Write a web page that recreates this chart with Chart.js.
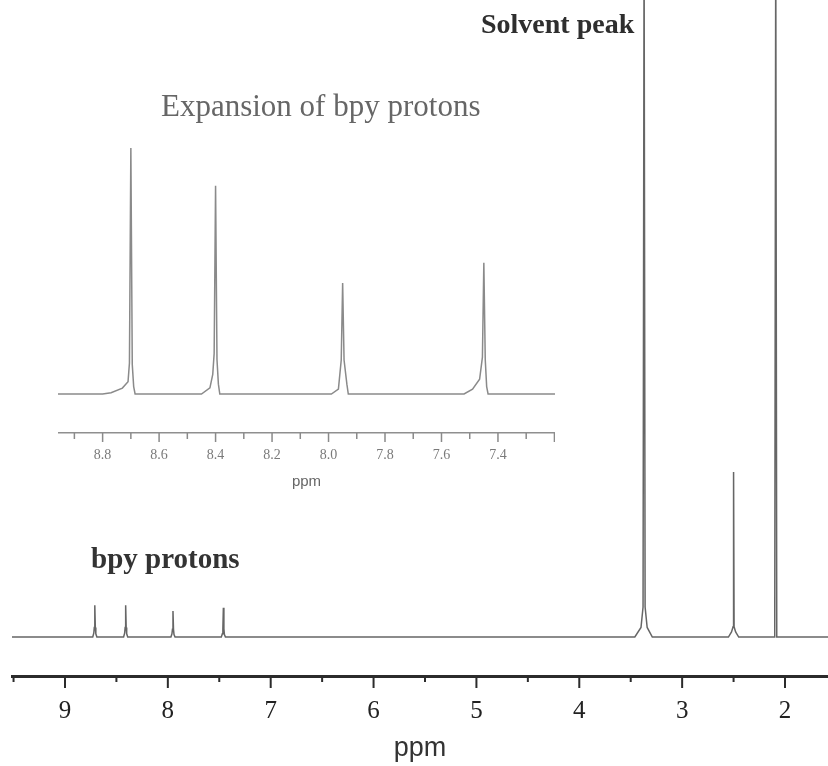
<!DOCTYPE html>
<html>
<head>
<meta charset="utf-8">
<script src="https://cdn.jsdelivr.net/npm/chart.js@4.4.1/dist/chart.umd.min.js"></script>
<style>
  body { margin: 0; background: #fff; }
  #wrap { position: relative; width: 828px; height: 766px; background: #fff; overflow: hidden; }
  #main { position: absolute; left: 0; top: 0; }
  #inset { position: absolute; left: 58px; top: 130px; }
  .note { position: absolute; line-height: 1; white-space: nowrap; font-family: 'Liberation Serif', 'Times New Roman', serif; }
</style>
</head>
<body>
<div id="wrap">
  <canvas id="main" width="828" height="766"></canvas>
  <canvas id="inset" width="497" height="361"></canvas>
  <div class="note" style="left:481px; top:10px; font-size:28px; font-weight:bold; color:#2e2e2e;">Solvent peak</div>
  <div class="note" style="left:91px; top:544px; font-size:29px; font-weight:bold; color:#333;">bpy protons</div>
  <div class="note" style="left:161px; top:90px; font-size:31px; color:#666;">Expansion of bpy protons</div>
</div>
<script>
// full spectrum (ppm, relative intensity; 100 = top of plot)
const mainPpm = [9.52, 8.73, 8.72, 8.715, 8.71, 8.705, 8.70, 8.69,
  8.43, 8.42, 8.415, 8.41, 8.405, 8.40, 8.39,
  7.97, 7.96, 7.955, 7.95, 7.945, 7.94, 7.93,
  7.48, 7.47, 7.465, 7.46, 7.455, 7.45, 7.44,
  3.46, 3.40, 3.38, 3.37, 3.36, 3.34, 3.29,
  2.55, 2.52, 2.505, 2.50, 2.495, 2.48, 2.45,
  2.10, 2.09, 2.08, 1.58];
const mainIntensity = [0, 0, 0.6, 1.5, 5.0, 1.5, 0.5, 0,
  0, 0.6, 1.5, 5.0, 1.5, 0.5, 0,
  0, 0.5, 1.2, 4.1, 1.2, 0.4, 0,
  0, 0.5, 1.3, 4.6, 1.3, 0.4, 0,
  0, 1.5, 4.7, 110, 4.7, 1.5, 0,
  0, 0.8, 1.6, 25.9, 1.6, 0.8, 0,
  0, 110, 0, 0];

// expansion of the bpy region (100 = tallest peak)
const insetPpm = [8.958, 8.80, 8.77, 8.73, 8.71, 8.705, 8.70, 8.695, 8.69, 8.685,
  8.45, 8.42, 8.41, 8.405, 8.40, 8.395, 8.39, 8.385,
  7.99, 7.965, 7.955, 7.95, 7.945, 7.935, 7.93,
  7.52, 7.49, 7.465, 7.455, 7.45, 7.445, 7.44, 7.435, 7.198];
const insetIntensity = [0, 0, 0.5, 2.4, 5, 12.6, 100, 12, 3, 0,
  0, 2.5, 8, 16.5, 84.6, 14, 4, 0,
  0, 2, 13.8, 45.1, 13.8, 4, 0,
  0, 2, 6, 15, 53.3, 14, 3, 0, 0];

const mainTickLabels = [9, 8, 7, 6, 5, 4, 3, 2];
const insetTickLabels = ['8.8', '8.6', '8.4', '8.2', '8.0', '7.8', '7.6', '7.4'];

function nearMultiple(v, step) {
  const r = v / step;
  return Math.abs(r - Math.round(r)) < 1e-6;
}

// tick marks hanging under the axis, long for labelled ones
const tickMarks = {
  id: 'tickMarks',
  afterDraw(chart, args, opts) {
    const scale = chart.scales.x;
    const ctx = chart.ctx;
    ctx.save();
    ctx.strokeStyle = opts.color;
    ctx.lineWidth = opts.width;
    scale.ticks.forEach(t => {
      const x = scale.getPixelForValue(t.value);
      const len = nearMultiple(t.value, opts.majorStep) ? opts.major : opts.minor;
      ctx.beginPath();
      ctx.moveTo(x, scale.top);
      ctx.lineTo(x, scale.top + len);
      ctx.stroke();
    });
    ctx.restore();
  }
};

function toPoints(xs, ys) {
  return xs.map((x, i) => ({ x: x, y: ys[i] }));
}

// fixed axis height, no extra side padding
function fixAxis(h) {
  return scale => {
    scale.height = h;
    scale.paddingLeft = 0;
    scale.paddingRight = 0;
  };
}

new Chart(document.getElementById('main'), {
  type: 'line',
  data: {
    datasets: [{
      data: toPoints(mainPpm, mainIntensity),
      borderColor: '#666',
      borderWidth: 1.5,
      pointRadius: 0,
      tension: 0
    }]
  },
  options: {
    responsive: false,
    animation: false,
    devicePixelRatio: 1,
    layout: { padding: { left: 12, right: 0, top: 0, bottom: 0 } },
    plugins: {
      legend: { display: false },
      tooltip: { enabled: false },
      tickMarks: { color: '#2b2b2b', width: 2, major: 12, minor: 6, majorStep: 1 }
    },
    scales: {
      x: {
        type: 'linear',
        reverse: true,
        min: 1.582,
        max: 9.515,
        afterFit: fixAxis(90),
        grid: { display: false, drawTicks: false },
        border: { display: true, color: '#2b2b2b', width: 3 },
        ticks: {
          stepSize: 0.5,
          includeBounds: false,
          autoSkip: false,
          maxRotation: 0,
          padding: 20,
          color: '#222',
          font: { family: 'Liberation Serif', size: 25, lineHeight: '30px' },
          callback: v => mainTickLabels.includes(Math.round(v)) && nearMultiple(v, 1) ? String(Math.round(v)) : ''
        },
        title: {
          display: true,
          text: 'ppm',
          color: '#333',
          font: { family: 'Liberation Sans', size: 27, lineHeight: '30px' },
          padding: { top: 7, bottom: 2 }
        }
      },
      y: { display: false, min: -6.12, max: 100 }
    }
  },
  plugins: [tickMarks]
});

new Chart(document.getElementById('inset'), {
  type: 'line',
  data: {
    datasets: [{
      data: toPoints(insetPpm, insetIntensity),
      borderColor: '#8a8a8a',
      borderWidth: 1.5,
      pointRadius: 0,
      tension: 0
    }]
  },
  options: {
    responsive: false,
    animation: false,
    devicePixelRatio: 1,
    layout: { padding: 0 },
    plugins: {
      legend: { display: false },
      tooltip: { enabled: false },
      tickMarks: { color: '#8a8a8a', width: 1.5, major: 9, minor: 6, majorStep: 0.2 }
    },
    scales: {
      x: {
        type: 'linear',
        reverse: true,
        min: 7.198,
        max: 8.958,
        afterFit: fixAxis(58),
        grid: { display: false, drawTicks: false },
        border: { display: true, color: '#8f8f8f', width: 1.5 },
        ticks: {
          stepSize: 0.1,
          includeBounds: false,
          autoSkip: false,
          maxRotation: 0,
          padding: 14,
          color: '#7a7a7a',
          font: { family: 'Liberation Serif', size: 14, lineHeight: '16px' },
          callback: v => {
            const s = v.toFixed(1);
            return insetTickLabels.includes(s) ? s : '';
          }
        },
        title: {
          display: true,
          text: 'ppm',
          color: '#666',
          font: { family: 'Liberation Sans', size: 15, lineHeight: '18px' },
          padding: { top: 10, bottom: 0 }
        }
      },
      y: { display: false, min: -15.85, max: 107.3 }
    }
  },
  plugins: [tickMarks]
});
</script>
</body>
</html>
